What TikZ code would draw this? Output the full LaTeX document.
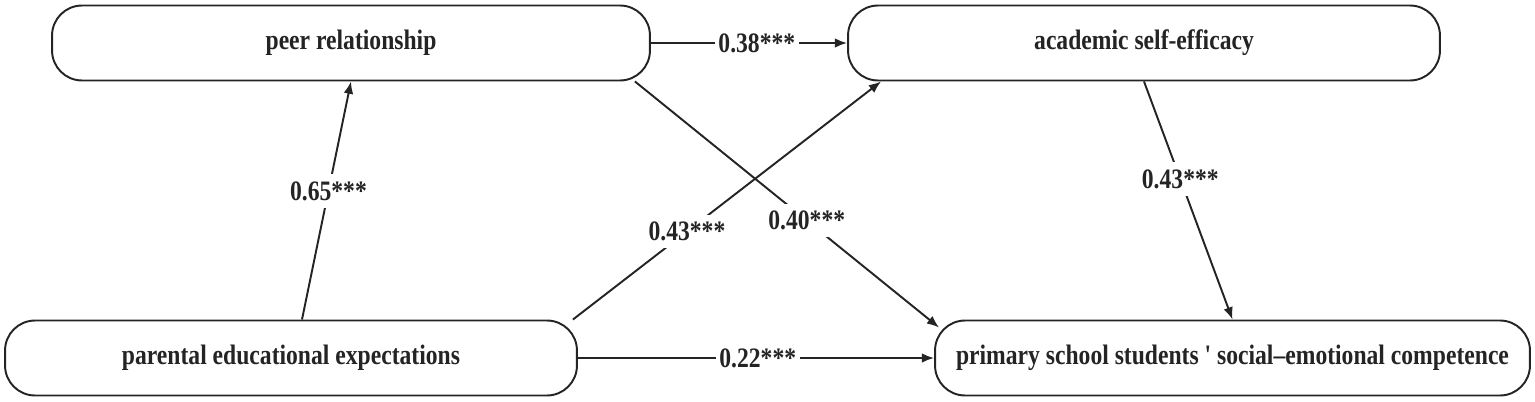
\documentclass[tikz,border=0pt]{standalone}
\usepackage{fontspec}
\setmainfont{Liberation Serif}[Ligatures=TeXOff, FakeStretch=0.84]
\usepackage{xcolor}
\usetikzlibrary{arrows.meta, calc}
\definecolor{ink}{HTML}{242424}

\begin{document}
\begin{tikzpicture}[x=0.02cm, y=-0.02cm,
    factor/.style={draw=ink, line width=1.1pt, rounded corners=0.6cm, minimum height=1.5cm,
        text=ink, font=\fontsize{16}{19}\selectfont\bfseries},
    coef/.style={fill=white, inner xsep=2pt, inner ysep=4pt, text=ink,
        font=\fontsize{16}{19}\selectfont\bfseries},
    link/.style={draw=ink, line width=1.1pt, -{Latex[length=7pt, width=5.5pt]}}]
        \useasboundingbox (0,0) rectangle (1535,402);

        % The four variables
        \node[factor, minimum width=11.96cm] (peer) at (351,43) {peer relationship};
        \node[factor, minimum width=11.84cm] (ase) at (1144,43) {academic self-efficacy};
        \node[factor, minimum width=11.44cm] (pee) at (291,358) {parental educational expectations};
        \node[factor, minimum width=11.9cm] (sec) at (1232.5,358) {primary school students ' social–emotional competence};

        % Paths with standardized coefficients
        \draw[link] ([xshift=0.22cm]pee.north) -- node[coef, pos=0.54] (c1) {0.65***} (peer.south);
        \draw[link] (peer.east) -- node[coef, pos=0.54] (c2) {0.38***} (ase.west);
        \draw[link] ([xshift=-0.1cm]pee.north east) -- node[coef, pos=0.37] (c3) {0.43***} ([xshift=0.68cm]ase.south west);
        \draw[link] ([xshift=-0.32cm]peer.south east) -- node[coef, pos=0.565] (c4) {0.40***} ([shift={(0.1cm,-0.16cm)}]sec.north west);
        \draw[link] (ase.south) -- node[coef, pos=0.41] (c5) {0.43***} (sec.north);
        \draw[link] (pee.east) -- node[coef, pos=0.505] (c6) {0.22***} (sec.west);
    \end{tikzpicture}
\end{document}
